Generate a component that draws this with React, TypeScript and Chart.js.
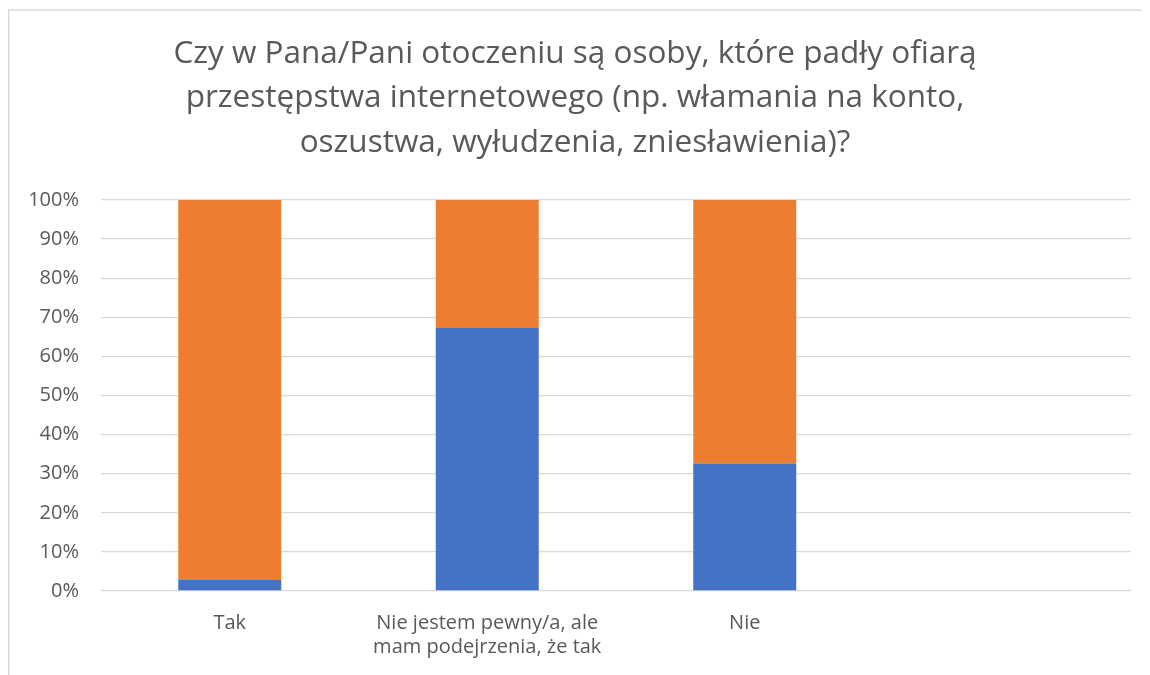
import React, { useEffect, useRef } from "react";
import { Chart, registerables } from "chart.js";

Chart.register(...registerables);

const titleLines = [
  "Czy w Pana/Pani otoczeniu są osoby, które padły ofiarą",
  "przestępstwa internetowego (np. włamania na konto,",
  "oszustwa, wyłudzenia, zniesławienia)?",
];
const categories: (string | string[])[] = [
  "Tak",
  ["Nie jestem pewny/a, ale", "mam podejrzenia, że tak"],
  "Nie",
  "",
];
const seriesBlue = [2.8, 67.3, 32.6, null];
const seriesOrange = [97.2, 32.7, 67.4, null];
const yTicks = [0, 10, 20, 30, 40, 50, 60, 70, 80, 90, 100];

const FONT = "'Open Sans'";
const TEXT = "#595959";
const GRID = "#D9D9D9";

const W = 1142;
const H = 667;

const frame = {
  id: "frame",
  afterDraw(chart: any) {
    const ctx = chart.ctx;
    ctx.save();
    ctx.strokeStyle = GRID;
    ctx.lineWidth = 1.5;
    ctx.beginPath();
    ctx.moveTo(0.75, H);
    ctx.lineTo(0.75, 2);
    ctx.lineTo(W, 2);
    ctx.stroke();
    ctx.restore();
  },
};

export default function App() {
  const ref = useRef<HTMLCanvasElement>(null);
  useEffect(() => {
    document.documentElement.style.overflow = "hidden";
    const chart = new Chart(ref.current!, {
      type: "bar",
      data: {
        labels: categories as any,
        datasets: [
          {
            label: "Seria 1",
            data: seriesBlue as any,
            backgroundColor: "#4472C4",
            barPercentage: 0.4,
            categoryPercentage: 1,
          },
          {
            label: "Seria 2",
            data: seriesOrange as any,
            backgroundColor: "#ED7D31",
            barPercentage: 0.4,
            categoryPercentage: 1,
          },
        ],
      },
      options: {
        responsive: false,
        animation: false,
        layout: { padding: { left: 11, right: 19, top: 0, bottom: 0 } },
        plugins: {
          legend: { display: false },
          tooltip: { enabled: false },
          title: {
            display: true,
            text: titleLines,
            color: TEXT,
            font: { family: FONT, size: 31.5, weight: "normal", lineHeight: 1.413 },
            padding: { top: 23.5, bottom: 35 },
          },
        },
        scales: {
          x: {
            stacked: true,
            grid: { display: false },
            border: { display: false },
            ticks: {
              color: TEXT,
              font: { family: FONT, size: 20, lineHeight: 1.2 },
              padding: 12,
              maxRotation: 0,
              autoSkip: false,
            },
            afterFit(scale: any) {
              scale.height = 84;
            },
          },
          y: {
            stacked: true,
            min: 0,
            max: 100,
            afterBuildTicks(scale: any) {
              scale.ticks = yTicks.map((v) => ({ value: v }));
            },
            grid: { color: GRID, lineWidth: 1.3, drawTicks: false },
            border: { display: false },
            ticks: {
              color: TEXT,
              font: { family: FONT, size: 20 },
              padding: 22,
              callback: (v: any) => v + "%",
            },
            afterFit(scale: any) {
              scale.width = 82;
            },
          },
        },
      },
      plugins: [frame],
    });
    return () => chart.destroy();
  }, []);
  return (
    <div style={{ width: W, height: H }}>
      <canvas ref={ref} width={W} height={H} style={{ display: "block" }} />
    </div>
  );
}
